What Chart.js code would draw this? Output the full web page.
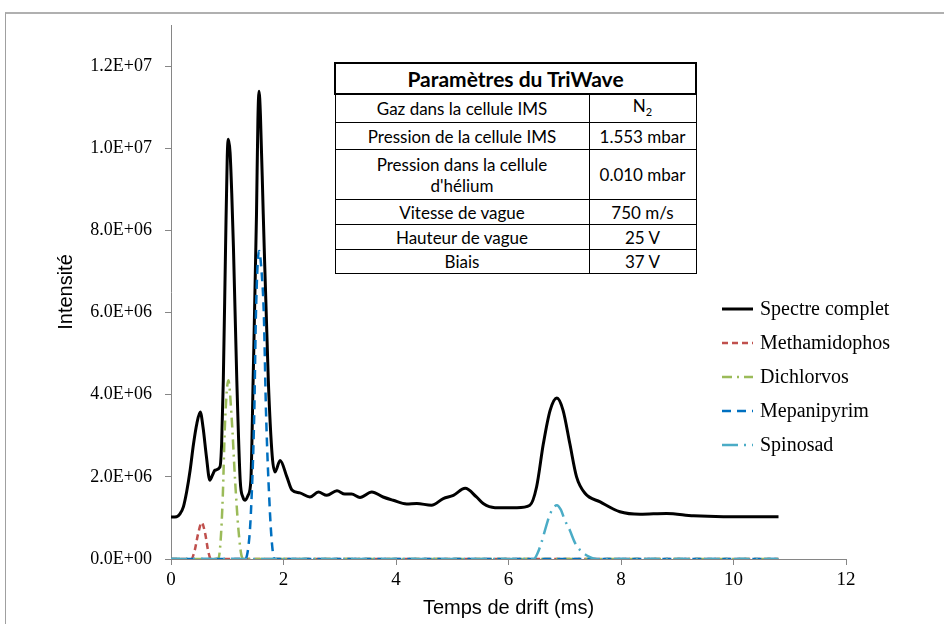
<!DOCTYPE html>
<html>
<head>
<meta charset="utf-8">
<script src="https://cdn.jsdelivr.net/npm/chart.js@4.4.1/dist/chart.umd.min.js"></script>
<style>
  html, body { margin: 0; padding: 0; background: #fff; overflow: hidden; width: 944px; height: 624px; }
  #wrap { position: relative; width: 944px; height: 624px; }
  #frame { position: absolute; left: 5px; top: 12px; width: 1200px; height: 1200px; border-left: 1px solid #a0a0a0; border-top: 2px solid #b0b0b0; box-sizing: border-box; }
  canvas { position: absolute; left: 0; top: 0; }
  #params { position: absolute; left: 334px; top: 62px; width: 363px; border-collapse: collapse; font-family: Lato, "Noto Sans", sans-serif; font-size: 17px; color: #000; background: #fff; }
  #params td, #params th { border: 1.5px solid #000; text-align: center; padding: 0 2px; line-height: 21px; }
  #params th { font-weight: bold; font-size: 21px; border-width: 2px; }
</style>
</head>
<body>
<div id="wrap">
  <div id="frame"></div>
  <canvas id="c" width="944" height="624"></canvas>
  <table id="params"></table>
</div>
<script>
// ---------- Data ----------
const seriesNames = ["Spectre complet", "Methamidophos", "Dichlorvos", "Mepanipyrim", "Spinosad"];

// Spectre complet (intensity in units of 1E6)
const spectreT = [0, 0.1, 0.16, 0.22, 0.28, 0.34, 0.40, 0.46, 0.52, 0.57, 0.63, 0.69, 0.74, 0.78, 0.87, 0.90, 0.93, 0.97, 1.00, 1.02, 1.05, 1.08, 1.11, 1.17, 1.23, 1.28, 1.32, 1.37, 1.42, 1.46, 1.52, 1.545, 1.565, 1.59, 1.64, 1.73, 1.80, 1.85, 1.94, 2.06, 2.15, 2.29, 2.47, 2.62, 2.77, 2.95, 3.09, 3.21, 3.36, 3.57, 3.77, 3.95, 4.19, 4.37, 4.63, 4.84, 5.02, 5.23, 5.43, 5.55, 5.76, 6.15, 6.38, 6.50, 6.62, 6.74, 6.86, 6.97, 7.09, 7.21, 7.36, 7.63, 7.98, 8.34, 8.81, 9.29, 9.82, 10.80];
const spectreI = [1.02, 1.03, 1.10, 1.27, 1.65, 2.16, 2.80, 3.30, 3.58, 3.20, 2.49, 1.92, 2.05, 2.16, 2.24, 2.80, 4.35, 7.59, 9.80, 10.22, 9.90, 8.90, 7.59, 4.35, 1.92, 1.50, 1.43, 1.55, 1.92, 4.35, 8.40, 10.70, 11.39, 10.80, 8.40, 4.35, 2.50, 2.12, 2.40, 2.00, 1.68, 1.61, 1.51, 1.63, 1.55, 1.66, 1.58, 1.58, 1.50, 1.63, 1.51, 1.43, 1.34, 1.35, 1.31, 1.47, 1.55, 1.72, 1.51, 1.35, 1.25, 1.25, 1.31, 1.76, 2.81, 3.62, 3.92, 3.62, 2.81, 2.00, 1.60, 1.39, 1.15, 1.09, 1.11, 1.05, 1.03, 1.03];

const methT = [0, 0.36, 0.42, 0.48, 0.546, 0.61, 0.66, 0.71, 10.80];
const methI = [0, 0, 0.20, 0.60, 0.89, 0.60, 0.20, 0, 0];

const dichT = [0, 0.84, 0.88, 0.92, 0.96, 1.02, 1.08, 1.14, 1.20, 1.26, 1.30, 10.80];
const dichI = [0, 0, 0.40, 1.50, 3.30, 4.35, 3.40, 1.90, 0.70, 0.05, 0, 0];

const mepaT = [0, 1.32, 1.38, 1.42, 1.48, 1.51, 1.565, 1.61, 1.65, 1.69, 1.76, 1.80, 1.84, 10.80];
const mepaI = [0, 0, 0.35, 1.11, 3.54, 5.97, 7.50, 7.00, 5.97, 3.54, 1.11, 0.30, 0, 0];

const spinT = [0, 6.45, 6.52, 6.59, 6.67, 6.74, 6.86, 6.93, 7.00, 7.09, 7.18, 7.27, 7.40, 7.57, 10.80];
const spinI = [0, 0, 0.15, 0.42, 0.80, 1.10, 1.31, 1.20, 0.95, 0.70, 0.40, 0.22, 0.08, 0, 0];

const xTicks = [0, 2, 4, 6, 8, 10, 12];
const yTicks = [0, 2e6, 4e6, 6e6, 8e6, 10e6, 12e6];

const tableTitle = "Paramètres du TriWave";
const tableLabels = ["Gaz dans la cellule IMS", "Pression de la cellule IMS", "Pression dans la cellule<br>d'hélium", "Vitesse de vague", "Hauteur de vague", "Biais"];
const tableValues = ["N<sub style=\"font-size:11px\">2</sub>", "1.553 mbar", "0.010 mbar", "750 m/s", "25 V", "37 V"];

// ---------- Table ----------
const rowHeights = [28, 27, 50, 25, 25, 24];
(function buildTable() {
  const t = document.getElementById('params');
  let html = '<tr style="height:31px"><th colspan="2">' + tableTitle + '</th></tr>';
  tableLabels.forEach((l, i) => {
    html += '<tr style="height:' + rowHeights[i] + 'px"><td style="width:249px">' + l + '</td><td>' + tableValues[i] + '</td></tr>';
  });
  t.innerHTML = html;
})();

// ---------- Chart ----------
const toPts = (xs, ys) => xs.map((x, i) => ({ x: x, y: ys[i] * 1e6 }));
const colors = ["#000000", "#C0504D", "#9BBB59", "#0070C0", "#4BACC6"];
const dashes = [[], [6, 4], [10, 5, 2, 5], [9, 6], [16, 6, 2, 6]];
const widths = [3, 2.5, 2.5, 2.5, 2.5];
const orders = [4, 3, 2, 1, 0];
const allData = [toPts(spectreT, spectreI), toPts(methT, methI), toPts(dichT, dichI), toPts(mepaT, mepaI), toPts(spinT, spinI)];

function sci(v) {
  if (v === 0) return "0.0E+00";
  const e = Math.floor(Math.log10(Math.abs(v)) + 1e-9);
  const m = v / Math.pow(10, e);
  return m.toFixed(1) + "E+" + String(e).padStart(2, "0");
}

const LEG_X = 722, LEG_LEN = 31, LEG_TEXT_X = 760, LEG_Y0 = 309, LEG_STEP = 34;
const sideLegend = {
  id: 'sideLegend',
  afterDraw(chart) {
    const ctx = chart.ctx;
    chart.data.datasets.forEach((ds, i) => {
      const y = LEG_Y0 + i * LEG_STEP;
      ctx.save();
      ctx.strokeStyle = ds.borderColor;
      ctx.lineWidth = ds.borderWidth;
      ctx.setLineDash(ds.borderDash || []);
      ctx.beginPath();
      ctx.moveTo(LEG_X, y);
      ctx.lineTo(LEG_X + LEG_LEN, y);
      ctx.stroke();
      ctx.setLineDash([]);
      ctx.fillStyle = '#000';
      ctx.font = '20px "Liberation Serif"';
      ctx.textBaseline = 'middle';
      ctx.fillText(ds.label, LEG_TEXT_X, y + 1);
      ctx.restore();
    });
  }
};

new Chart(document.getElementById('c'), {
  type: 'line',
  data: {
    datasets: seriesNames.map((n, i) => ({
      label: n,
      data: allData[i],
      borderColor: colors[i],
      borderWidth: widths[i],
      borderDash: dashes[i],
      pointRadius: 0,
      fill: false,
      cubicInterpolationMode: 'monotone',
      order: orders[i]
    }))
  },
  options: {
    responsive: false,
    animation: false,
    layout: { padding: { left: 0, right: 98, top: 25, bottom: 0 } },
    plugins: { legend: { display: false }, tooltip: { enabled: false } },
    scales: {
      x: {
        type: 'linear',
        min: 0, max: 12,
        afterBuildTicks: s => { s.ticks = xTicks.map(v => ({ value: v })); },
        afterFit: s => { s.height = 65; },
        border: { color: '#868686', width: 1 },
        grid: { drawOnChartArea: false, drawTicks: true, tickLength: 6, color: '#868686' },
        ticks: { color: '#000', font: { family: '"Liberation Serif"', size: 19 }, padding: 4, maxRotation: 0 },
        title: { display: true, text: 'Temps de drift (ms)', color: '#000', font: { family: '"Liberation Sans"', size: 20 }, padding: { top: 0, bottom: 4 } }
      },
      y: {
        type: 'linear',
        min: 0, max: 13e6,
        afterBuildTicks: s => { s.ticks = yTicks.map(v => ({ value: v })); },
        afterFit: s => { s.width = 171; },
        border: { color: '#868686', width: 1 },
        grid: { drawOnChartArea: false, drawTicks: true, tickLength: 6, color: '#868686' },
        ticks: { color: '#000', font: { family: '"Liberation Serif"', size: 18 }, padding: 13, callback: v => sci(v) },
        title: { display: true, text: 'Intensité', color: '#000', font: { family: '"Liberation Sans"', size: 20 }, padding: { top: 54, bottom: 0 } }
      }
    }
  },
  plugins: [sideLegend]
});
</script>
</body>
</html>
